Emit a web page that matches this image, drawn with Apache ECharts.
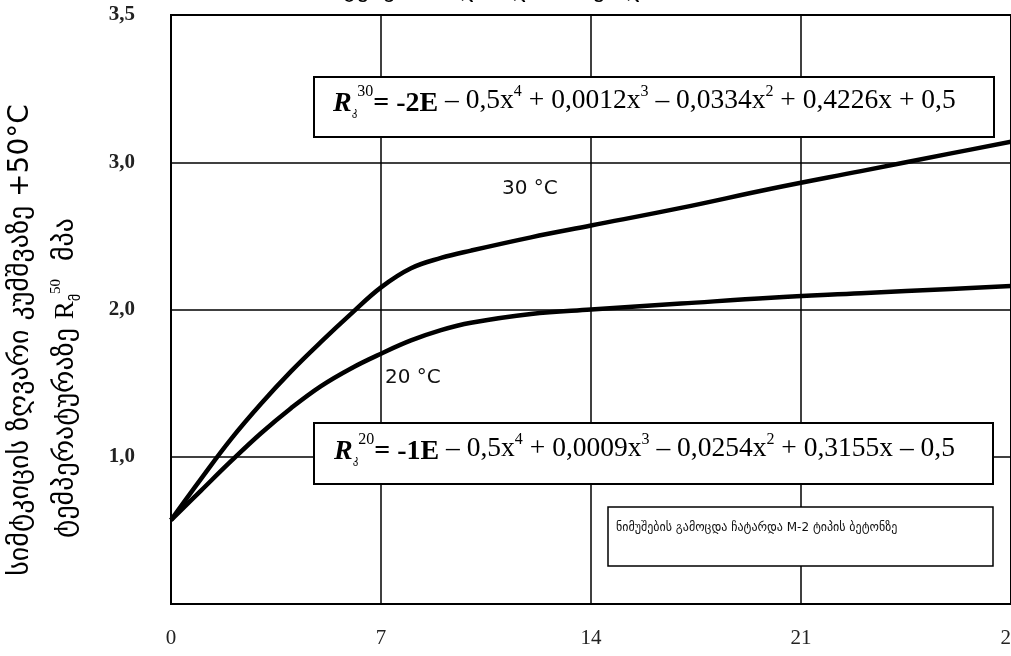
<!DOCTYPE html>
<html>
<head>
<meta charset="utf-8">
<script src="https://cdn.jsdelivr.net/npm/echarts@6/dist/echarts.min.js"></script>
<style>
html,body{margin:0;padding:0;background:#fff;}
#main{width:1011px;height:656px;}
</style>
</head>
<body>
<div id="main"></div>
<script>
// ---- data ----
const days = [0, 1, 2, 3, 4, 5, 6, 7, 8, 9, 10, 12, 14, 17, 20, 23, 26, 28];
const strength30 = [0.57, 0.85, 1.12, 1.36, 1.58, 1.78, 1.97, 2.15, 2.28, 2.35, 2.40, 2.49, 2.57, 2.69, 2.82, 2.94, 3.06, 3.14];
const strength20 = [0.57, 0.77, 0.97, 1.16, 1.33, 1.48, 1.60, 1.70, 1.79, 1.86, 1.91, 1.97, 2.00, 2.04, 2.08, 2.11, 2.14, 2.16];
const xTickValues = [0, 7, 14, 21, 28];
const yTickLabels = ['', '1,0', '2,0', '3,0', '3,5'];
const curveLabels = ['30 °C', '20 °C'];
const yTitleLine1 = 'სიმტკიცის ზღვარი კუმშვაზე +50°C';
const yTitleLine2 = 'ტემპერატურაზე {R|R}{sub|მ}{sup|50}  მპა';
const eq30 = '{ri|R}{sub|კ}{sup|30}{b|= -2E} – 0,5x{sup|4} + 0,0012x{sup|3} – 0,0334x{sup|2} + 0,4226x + 0,5';
const eq20 = '{ri|R}{sub|კ}{sup|20}{b|= -1E} – 0,5x{sup|4} + 0,0009x{sup|3} – 0,0254x{sup|2} + 0,3155x – 0,5';
const noteText = 'ნიმუშების გამოცდა ჩატარდა M-2 ტიპის ბეტონზე';
const titleText = 'სიმტკიცის ზრდის დინამიკა დროში';

const pair = (xs, ys) => xs.map((x, i) => [x, ys[i]]);

const serif = "'Liberation Serif','DejaVu Serif',serif";
const sans = "'DejaVu Sans','Liberation Sans',sans-serif";

const eqRich = {
  ri: {fontFamily: serif, fontStyle: 'italic', fontSize: 28, fontWeight: 'bold', lineHeight: 34, verticalAlign: 'bottom'},
  sub: {fontFamily: sans, fontSize: 11, lineHeight: 34, verticalAlign: 'bottom'},
  sup: {fontFamily: serif, fontSize: 16, lineHeight: 34, verticalAlign: 'top'},
  b: {fontFamily: serif, fontSize: 28, fontWeight: 'bold', lineHeight: 34, verticalAlign: 'bottom'}
};

const chart = echarts.init(document.getElementById('main'), null, {renderer: 'canvas'});
chart.setOption({
  backgroundColor: '#fff',
  animation: false,
  grid: {left: 171, right: 0, top: 15, bottom: 52, show: true, borderColor: '#000', borderWidth: 2,
         backgroundColor: 'transparent', outerBoundsMode: 'none', containLabel: false},
  xAxis: {
    type: 'value', min: 0, max: 28, interval: 7,
    axisLine: {show: true, lineStyle: {color: '#000', width: 2}},
    axisTick: {show: false},
    splitLine: {show: true, lineStyle: {color: '#000', width: 1.5}},
    axisLabel: {
      color: '#222', fontFamily: serif, fontSize: 21, margin: 24, showMaxLabel: true,
      formatter: v => xTickValues.includes(v) ? String(v) : ''
    }
  },
  yAxis: {
    type: 'value', min: 0, max: 4, interval: 1,
    axisLine: {show: true, lineStyle: {color: '#000', width: 2}},
    axisTick: {show: false},
    splitLine: {show: true, lineStyle: {color: '#000', width: 1.5}},
    axisLabel: {
      color: '#222', fontFamily: serif, fontSize: 21, fontWeight: 'bold', margin: 36,
      formatter: v => yTickLabels[Math.round(v)] || ''
    }
  },
  series: [
    {type: 'line', name: curveLabels[0], data: pair(days, strength30), smooth: 0.4, symbol: 'none',
     lineStyle: {color: '#000', width: 4.5}, z: 3},
    {type: 'line', name: curveLabels[1], data: pair(days, strength20), smooth: 0.4, symbol: 'none',
     lineStyle: {color: '#000', width: 4.5}, z: 3}
  ],
  graphic: [
    {type: 'text', left: 'center', top: -22, z: 10,
     style: {text: titleText, font: "24px 'DejaVu Sans'", fill: '#000'}},
    {type: 'rect', shape: {x: 314, y: 77, width: 680, height: 60}, z: 5,
     style: {fill: '#fff', stroke: '#000', lineWidth: 2}},
    {type: 'text', x: 333, y: 101, z: 6,
     style: {text: eq30, rich: eqRich, fontFamily: serif, fontSize: 27.5, lineHeight: 34, fill: '#000', verticalAlign: 'middle', align: 'left'}},
    {type: 'rect', shape: {x: 314, y: 423, width: 679, height: 61}, z: 5,
     style: {fill: '#fff', stroke: '#000', lineWidth: 2}},
    {type: 'text', x: 334, y: 449, z: 6,
     style: {text: eq20, rich: eqRich, fontFamily: serif, fontSize: 27.5, lineHeight: 34, fill: '#000', verticalAlign: 'middle', align: 'left'}},
    {type: 'rect', shape: {x: 608, y: 507, width: 385, height: 59}, z: 5,
     style: {fill: '#fff', stroke: '#000', lineWidth: 1.5}},
    {type: 'text', x: 616, y: 528, z: 6,
     style: {text: noteText, font: "12px 'DejaVu Sans'", fill: '#111', verticalAlign: 'middle'}},
    {type: 'text', x: 502, y: 189, z: 6,
     style: {text: curveLabels[0], font: "20px 'DejaVu Sans'", fill: '#111', verticalAlign: 'middle'}},
    {type: 'text', x: 385, y: 378, z: 6,
     style: {text: curveLabels[1], font: "20px 'DejaVu Sans'", fill: '#111', verticalAlign: 'middle'}},
    {type: 'text', x: 21, y: 340, rotation: Math.PI / 2, z: 6,
     style: {text: yTitleLine1, font: "28px 'DejaVu Sans'", fill: '#000', align: 'center', verticalAlign: 'middle'}},
    {type: 'text', x: 66, y: 378, rotation: Math.PI / 2, z: 6,
     style: {text: yTitleLine2, font: "28px 'DejaVu Sans'", fill: '#000', align: 'center', verticalAlign: 'middle',
       rich: {
         R: {fontFamily: serif, fontSize: 27, lineHeight: 34, verticalAlign: 'middle'},
         sub: {fontFamily: sans, fontSize: 14, lineHeight: 34, verticalAlign: 'bottom'},
         sup: {fontFamily: serif, fontSize: 15, lineHeight: 34, verticalAlign: 'top'}
       }}}
  ]
});
</script>
</body>
</html>
